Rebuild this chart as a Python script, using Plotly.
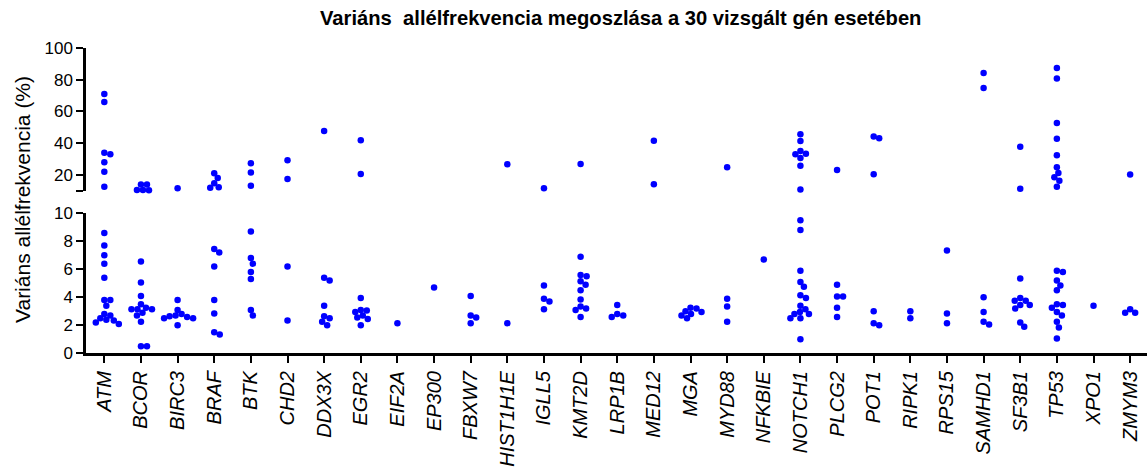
import plotly.graph_objects as go

# ---------------- data (variant allele frequency, %) ----------------
genes = ["ATM", "BCOR", "BIRC3", "BRAF", "BTK", "CHD2", "DDX3X", "EGR2", "EIF2A",
         "EP300", "FBXW7", "HIST1H1E", "IGLL5", "KMT2D", "LRP1B", "MED12", "MGA",
         "MYD88", "NFKBIE", "NOTCH1", "PLCG2", "POT1", "RIPK1", "RPS15", "SAMHD1",
         "SF3B1", "TP53", "XPO1", "ZMYM3"]

vaf_ATM = [71, 66, 34, 33, 28, 22, 12.5, 8.6, 7.7, 7.0, 6.4, 5.4, 3.8, 3.8, 3.4,
           2.8, 2.7, 2.5, 2.4, 2.35, 2.2, 2.1]
vaf_BCOR = [14, 14, 10.5, 10.5, 10.3, 6.55, 5.05, 4.1, 3.5, 3.25, 3.15, 3.15, 3.15,
            2.9, 2.7, 2.25, 0.5, 0.5]
vaf_BIRC3 = [11.6, 3.8, 3.1, 2.8, 2.7, 2.65, 2.6, 2.5, 2.5, 2.0]
vaf_BRAF = [21, 18, 14.7, 12.2, 12, 7.45, 7.2, 6.2, 3.8, 2.85, 1.5, 1.35]
vaf_BTK = [27.3, 21.6, 13.2, 8.7, 6.8, 6.4, 5.8, 5.3, 3.1, 2.7]
vaf_CHD2 = [29.2, 17.4, 6.2, 2.35]
vaf_DDX3X = [47.7, 5.4, 5.2, 3.4, 2.65, 2.5, 2.25, 2.0]
vaf_EGR2 = [41.8, 20.6, 3.95, 3.1, 3.05, 2.95, 2.7, 2.55, 2.45, 2.0]
vaf_EIF2A = [2.15]
vaf_EP300 = [4.7]
vaf_FBXW7 = [4.1, 2.7, 2.55, 2.15]
vaf_HIST1H1E = [26.7, 2.15]
vaf_IGLL5 = [11.6, 4.85, 3.9, 3.7, 3.15]
vaf_KMT2D = [26.9, 6.9, 5.6, 5.5, 5.15, 4.9, 4.5, 3.85, 3.35, 3.2, 3.1, 2.6]
vaf_LRP1B = [3.45, 2.8, 2.7, 2.6]
vaf_MED12 = [41.6, 14.1]
vaf_MGA = [3.25, 3.2, 3.0, 2.95, 2.8, 2.7, 2.5]
vaf_MYD88 = [24.8, 3.9, 3.35, 2.25]
vaf_NFKBIE = [6.7]
vaf_NOTCH1 = [45.6, 41.4, 35.1, 33.4, 33.0, 30.7, 25.8, 10.8, 9.5, 8.8, 5.9, 5.1,
              4.75, 4.15, 3.95, 3.4, 3.15, 2.95, 2.8, 2.8, 2.5, 2.5, 1.0]
vaf_PLCG2 = [23.1, 4.9, 4.05, 4.05, 3.25, 2.6]
vaf_POT1 = [44.3, 43.1, 20.4, 3.0, 2.15, 2.0]
vaf_RIPK1 = [3.0, 2.5]
vaf_RPS15 = [7.35, 2.85, 2.15]
vaf_SAMHD1 = [84.2, 74.8, 4.0, 2.95, 2.25, 2.05]
vaf_SF3B1 = [37.8, 11.3, 5.35, 3.95, 3.75, 3.75, 3.45, 3.45, 3.2, 2.2, 1.9]
vaf_TP53 = [87.4, 80.7, 52.7, 42.8, 32.4, 24.8, 21.2, 18.5, 16.4, 12.6, 5.9, 5.8,
            5.2, 4.85, 4.5, 3.5, 3.45, 3.25, 2.95, 2.7, 2.25, 1.85, 1.05]
vaf_XPO1 = [3.4]
vaf_ZMYM3 = [20.2, 3.15, 2.9, 2.9]

vaf_lists = [vaf_ATM, vaf_BCOR, vaf_BIRC3, vaf_BRAF, vaf_BTK, vaf_CHD2, vaf_DDX3X,
             vaf_EGR2, vaf_EIF2A, vaf_EP300, vaf_FBXW7, vaf_HIST1H1E, vaf_IGLL5,
             vaf_KMT2D, vaf_LRP1B, vaf_MED12, vaf_MGA, vaf_MYD88, vaf_NFKBIE,
             vaf_NOTCH1, vaf_PLCG2, vaf_POT1, vaf_RIPK1, vaf_RPS15, vaf_SAMHD1,
             vaf_SF3B1, vaf_TP53, vaf_XPO1, vaf_ZMYM3]

top_ticks = [10, 20, 40, 60, 80, 100]
top_ticktext = ["", "20", "40", "60", "80", "100"]
bottom_ticks = [0, 2, 4, 6, 8, 10]

# ---------------- layout geometry ----------------
W, H = 1147, 467
BREAK = 10
x_dom = [86 / W, 1.0]
x_range = [-0.5, 28.46]
top_dom = [1 - 190.8 / H, 1 - 48 / H]
bot_dom = [1 - 353.3 / H, 1 - 213.3 / H]
top_range = [10, 100]
bot_range = [0, 10]

px_per_cat = (x_dom[1] - x_dom[0]) * W / (x_range[1] - x_range[0])
ppu_top = (top_dom[1] - top_dom[0]) * H / (top_range[1] - top_range[0])
ppu_bot = (bot_dom[1] - bot_dom[0]) * H / (bot_range[1] - bot_range[0])

DOT = 5.8  # minimum centre distance in px


def swarm(vals, ppu):
    """simple beeswarm: horizontal pixel offsets so dots do not overlap"""
    placed = []
    offs = [0.0] * len(vals)
    order = sorted(range(len(vals)), key=lambda i: -vals[i])
    for i in order:
        y = vals[i] * ppu
        chosen = None
        k = 0
        while chosen is None:
            cands = [0.0] if k == 0 else [k * 0.5, -k * 0.5]
            for s in cands:
                if all((s - px) ** 2 + (y - py) ** 2 >= DOT ** 2 for px, py in placed):
                    chosen = s
                    break
            k += 1
        placed.append((chosen, y))
        offs[i] = chosen
    return offs


tx, ty, bx, by = [], [], [], []
for gi, vals in enumerate(vaf_lists):
    top_v = [v for v in vals if v > BREAK]
    bot_v = [v for v in vals if v <= BREAK]
    for v, o in zip(top_v, swarm(top_v, ppu_top)):
        tx.append(gi + o / px_per_cat)
        ty.append(v)
    for v, o in zip(bot_v, swarm(bot_v, ppu_bot)):
        bx.append(gi + o / px_per_cat)
        by.append(v)

FONT = "Liberation Sans, Arial, Helvetica, sans-serif"
marker = dict(color="#0000FF", size=6.5, line=dict(width=0))

fig = go.Figure()
fig.add_trace(go.Scatter(x=bx, y=by, mode="markers", marker=marker,
                         xaxis="x", yaxis="y", cliponaxis=False, showlegend=False))
fig.add_trace(go.Scatter(x=tx, y=ty, mode="markers", marker=marker,
                         xaxis="x2", yaxis="y2", cliponaxis=False, showlegend=False))

axis_common = dict(showgrid=False, zeroline=False, showline=True, linecolor="black",
                   linewidth=2.5, ticks="outside", ticklen=7, tickwidth=2,
                   tickcolor="black", automargin=False)

fig.update_layout(
    width=W, height=H,
    margin=dict(l=0, r=0, t=0, b=0),
    paper_bgcolor="white", plot_bgcolor="white",
    font=dict(family=FONT, color="black"),
    xaxis=dict(domain=x_dom, range=x_range, anchor="y",
               tickmode="array", tickvals=list(range(len(genes))),
               ticktext=[f"<i>{g}</i>" for g in genes], tickangle=-90,
               tickfont=dict(size=20, family=FONT, color="black"), **axis_common),
    yaxis=dict(domain=bot_dom, range=bot_range, anchor="x",
               tickmode="array", tickvals=bottom_ticks,
               tickfont=dict(size=17, family=FONT, color="black"), **axis_common),
    xaxis2=dict(domain=x_dom, range=x_range, anchor="y2", matches="x",
                visible=False),
    yaxis2=dict(domain=top_dom, range=top_range, anchor="x2",
                tickmode="array", tickvals=top_ticks, ticktext=top_ticktext,
                tickfont=dict(size=17, family=FONT, color="black"), **axis_common),
    annotations=[
        dict(text="<b>Variáns\u00a0 allélfrekvencia megoszlása a 30 vizsgált gén esetében</b>",
             x=620 / W, y=1 - 18 / H, xref="paper", yref="paper",
             xanchor="center", yanchor="middle", showarrow=False,
             font=dict(size=20.2, family=FONT, color="black")),
        dict(text="Variáns allélfrekvencia (%)", textangle=-90,
             x=22 / W, y=1 - 200 / H, xref="paper", yref="paper",
             xanchor="center", yanchor="middle", showarrow=False,
             font=dict(size=21, family=FONT, color="black")),
    ],
)

fig.write_html("out.html")
